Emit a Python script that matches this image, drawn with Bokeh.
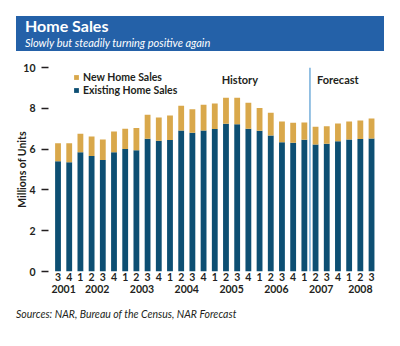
from bokeh.plotting import figure
from bokeh.layouts import column
from bokeh.models import (Range1d, FixedTicker, LinearAxis, Span, Label, Legend,
                          LegendItem, ColumnDataSource, Div)
from bokeh.embed import file_html
from bokeh.resources import INLINE

# ---------------- data ----------------
years = ["2001", "2001",
         "2002", "2002", "2002", "2002",
         "2003", "2003", "2003", "2003",
         "2004", "2004", "2004", "2004",
         "2005", "2005", "2005", "2005",
         "2006", "2006", "2006", "2006",
         "2007", "2007", "2007", "2007",
         "2008", "2008", "2008"]
quarters = ["3", "4",
            "1", "2", "3", "4",
            "1", "2", "3", "4",
            "1", "2", "3", "4",
            "1", "2", "3", "4",
            "1", "2", "3", "4",
            "1", "2", "3", "4",
            "1", "2", "3"]
existing = [5.41, 5.36, 5.84, 5.66, 5.46, 5.84, 6.00, 5.94, 6.51, 6.41, 6.44,
            6.91, 6.80, 6.91, 6.98, 7.24, 7.22, 7.00, 6.90, 6.67, 6.33, 6.31,
            6.46, 6.23, 6.26, 6.38, 6.47, 6.49, 6.52]
new_homes = [0.88, 0.93, 0.91, 0.96, 1.01, 1.02, 1.00, 1.10, 1.17, 1.14, 1.21,
             1.21, 1.15, 1.26, 1.25, 1.28, 1.30, 1.27, 1.12, 1.11, 1.02, 0.98,
             0.84, 0.86, 0.86, 0.87, 0.88, 0.91, 0.98]
history_count = 23          # 2001 Q3 .. 2007 Q1 are history
y_ticks = [0, 2, 4, 6, 8, 10]
title_text = "Home Sales"
subtitle_text = "Slowly but steadily turning positive again"
source_text = "Sources: NAR, Bureau of the Census, NAR Forecast"

# ---------------- styles ----------------
FONT = "Lato"
C_EXIST = "#0D4F73"
C_NEW = "#D9A84B"
C_HEAD = "#2461A8"
C_LINE = "#74AEDB"
C_TEXT = "#231F20"

# ---------------- header ----------------
head = Div(width=400, height=55, margin=0, text=(
    f'<div style="margin:16px 0 0 16px;width:368px;height:35px;background:{C_HEAD};'
    f'box-sizing:border-box;padding:0 0 0 9px;font-family:{FONT};color:white;overflow:visible;">'
    f'<div style="font-weight:bold;font-size:16px;line-height:20px;white-space:nowrap;">{title_text}</div>'
    f'<div style="font-style:italic;font-size:11px;line-height:13px;white-space:nowrap;">{subtitle_text}</div>'
    '</div>'))

# ---------------- main chart ----------------
xs = list(range(len(quarters)))
src = ColumnDataSource(dict(x=xs, existing=existing, new=new_homes,
                            q=quarters, yr=years))

p = figure(width=400, height=251, x_range=Range1d(-0.85, 28.8), y_range=Range1d(0, 10),
           output_backend="svg", toolbar_location=None,
           min_border_left=48, min_border_right=20, min_border_top=12,
           min_border_bottom=35, x_axis_location=None, y_axis_location=None)
p.outline_line_color = None
p.xgrid.visible = False
p.ygrid.visible = False

rs = p.vbar_stack(["existing", "new"], x="x", width=0.52, source=src,
                  color=[C_EXIST, C_NEW], line_color=None)

# y axis
yax = LinearAxis(ticker=FixedTicker(ticks=y_ticks), axis_label="Millions of Units")
yax.axis_line_color = None
yax.major_tick_out = 7
yax.major_tick_in = 0
yax.major_tick_line_color = C_TEXT
yax.major_tick_line_width = 1.5
yax.minor_tick_line_color = None
yax.major_label_standoff = 6
yax.major_label_text_font = FONT
yax.major_label_text_font_style = "bold"
yax.major_label_text_font_size = "10.5px"
yax.major_label_text_color = C_TEXT
yax.axis_label_text_font = FONT
yax.axis_label_text_font_style = "bold"
yax.axis_label_text_font_size = "10.5px"
yax.axis_label_text_color = C_TEXT
yax.axis_label_standoff = -8
p.add_layout(yax, "left")

# quarter axis
qax = LinearAxis(ticker=FixedTicker(ticks=xs),
                 major_label_overrides={i: q for i, q in zip(xs, quarters)})
# year axis
year_names = []
year_pos = []
for y in years:
    if y not in year_names:
        year_names.append(y)
for y in year_names:
    idx = [i for i, yy in enumerate(years) if yy == y]
    year_pos.append(sum(idx) / len(idx))
yrax = LinearAxis(ticker=FixedTicker(ticks=year_pos),
                  major_label_overrides={pos: y for pos, y in zip(year_pos, year_names)})
for ax in (qax, yrax):
    ax.axis_line_color = None
    ax.major_tick_line_color = None
    ax.minor_tick_line_color = None
    ax.major_tick_out = 0
    ax.major_tick_in = 0
    ax.major_label_standoff = 1
    ax.major_label_text_font = FONT
    ax.major_label_text_font_style = "bold"
    ax.major_label_text_font_size = "10.5px"
    ax.major_label_text_color = C_TEXT
p.add_layout(qax, "below")
p.add_layout(yrax, "below")

# forecast divider
boundary = history_count - 0.5
p.add_layout(Span(location=boundary, dimension="height", line_color=C_LINE,
                  line_width=1.5))
p.add_layout(Label(x=boundary, y=9.4, x_offset=7, text="Forecast",
                   text_font=FONT, text_font_style="bold", text_font_size="11px",
                   text_color=C_TEXT, text_baseline="middle", text_align="left"))
p.add_layout(Label(x=boundary, y=9.4, x_offset=-52, text="History",
                   text_font=FONT, text_font_style="bold", text_font_size="11px",
                   text_color=C_TEXT, text_baseline="middle", text_align="right"))

legend = Legend(items=[LegendItem(label="New Home Sales", renderers=[rs[1]]),
                       LegendItem(label="Existing Home Sales", renderers=[rs[0]])],
                location=(25, 175), margin=0, padding=0, spacing=0,
                glyph_width=6, glyph_height=6, label_height=13, label_standoff=4,
                label_text_font=FONT, label_text_font_style="bold",
                label_text_font_size="10.5px", label_text_color=C_TEXT,
                border_line_color=None, background_fill_alpha=0)
p.add_layout(legend)

# ---------------- footer ----------------
foot = Div(width=400, height=40, margin=0, text=(
    f'<div style="margin:2px 0 0 16px;font-family:{FONT};font-style:italic;'
    f'font-size:10.5px;line-height:12px;color:{C_TEXT};white-space:nowrap;">{source_text}</div>'))

layout = column(head, p, foot, spacing=0)
open("out.html", "w").write(file_html(layout, INLINE))
